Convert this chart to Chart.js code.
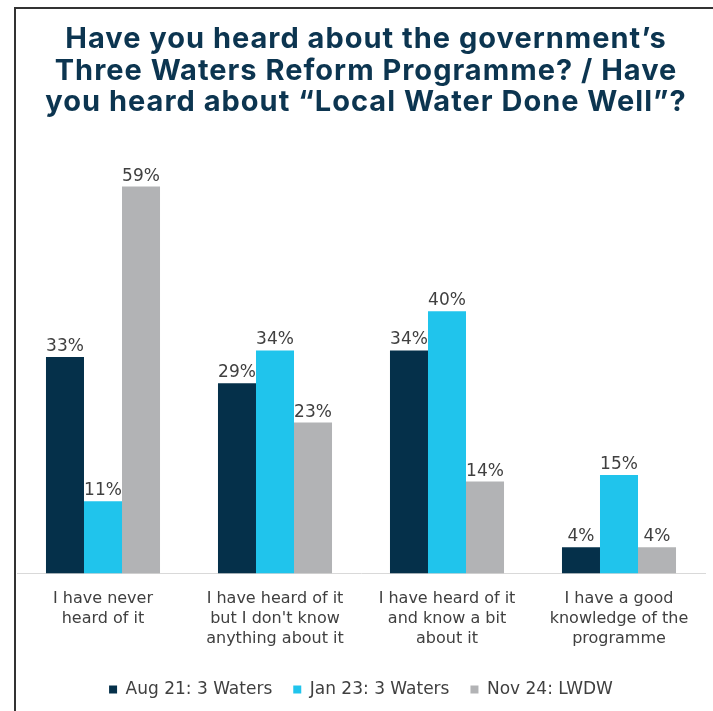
<!DOCTYPE html>
<html lang="en">
<head>
  <meta charset="UTF-8" />
  <title>Three Waters awareness</title>
  <script src="https://cdn.jsdelivr.net/npm/chart.js"></script>
  <style>
    body {
      margin: 0;
      padding: 0;
      background: #ffffff;
      width: 713px;
      height: 711px;
      overflow: hidden;
    }
    .wrap {
      position: relative;
      width: 713px;
      height: 711px;
    }
    .frame {
      position: absolute;
      left: 14px;
      top: 7px;
      right: -4px;
      bottom: -4px;
      border-top: 2px solid #333;
      border-left: 2px solid #333;
      pointer-events: none;
    }
    canvas {
      position: absolute;
      left: 0;
      top: 0;
    }
  </style>
</head>
<body>
  <div class="wrap">
    <canvas id="chart" width="713" height="711"></canvas>
    <div class="frame"></div>
  </div>

  <script>
    const titleLines = [
      "Have you heard about the government\u2019s",
      "Three Waters Reform Programme? / Have",
      "you heard about \u201cLocal Water Done Well\u201d?"
    ];
    const categories = [
      ["I have never", "heard of it"],
      ["I have heard of it", "but I don't know", "anything about it"],
      ["I have heard of it", "and know a bit", "about it"],
      ["I have a good", "knowledge of the", "programme"]
    ];
    const seriesNames = ["Aug 21: 3 Waters", "Jan 23: 3 Waters", "Nov 24: LWDW"];
    const aug21 = [33, 29, 34, 4];
    const jan23 = [11, 34, 40, 15];
    const nov24 = [59, 23, 14, 4];
    const colors = ["#05304a", "#20c4ec", "#b2b3b5"];

    // title drawn by hand so it can get a little letter spacing
    const headTitle = {
      id: "headTitle",
      afterDraw(chart) {
        const ctx = chart.ctx;
        ctx.save();
        ctx.font = "bold 29px Inter, Roboto, sans-serif";
        ctx.letterSpacing = "1px";
        ctx.fillStyle = "#0c3550";
        ctx.textAlign = "center";
        ctx.textBaseline = "alphabetic";
        titleLines.forEach((line, i) => {
          ctx.fillText(line, 366, 48 + i * 31.5);
        });
        ctx.restore();
      }
    };

    const valueLabels = {
      id: "valueLabels",
      afterDatasetsDraw(chart) {
        const ctx = chart.ctx;
        ctx.save();
        ctx.font = "17px 'DejaVu Sans', sans-serif";
        ctx.fillStyle = "#404040";
        ctx.textAlign = "center";
        ctx.textBaseline = "alphabetic";
        chart.data.datasets.forEach((ds, i) => {
          chart.getDatasetMeta(i).data.forEach((bar, j) => {
            ctx.fillText(ds.data[j] + "%", bar.x, bar.y - 6);
          });
        });
        ctx.restore();
      }
    };

    new Chart(document.getElementById("chart"), {
      type: "bar",
      data: {
        labels: categories,
        datasets: [aug21, jan23, nov24].map((d, i) => ({
          label: seriesNames[i],
          data: d,
          backgroundColor: colors[i],
          categoryPercentage: 0.663,
          barPercentage: 1.0
        }))
      },
      options: {
        responsive: false,
        animation: false,
        devicePixelRatio: 1,
        layout: { padding: { top: 180, left: 17, right: 8, bottom: 3 } },
        plugins: {
          title: { display: false },
          legend: {
            position: "bottom",
            labels: {
              color: "#404040",
              font: { family: "'DejaVu Sans', sans-serif", size: 17 },
              boxWidth: 8,
              boxHeight: 8,
              padding: 21
            }
          },
          tooltip: { enabled: false }
        },
        scales: {
          x: {
            grid: { display: false, drawTicks: false },
            border: { color: "#d9d9d9", width: 1 },
            ticks: {
              color: "#404040",
              font: { family: "'DejaVu Sans', sans-serif", size: 16, lineHeight: 1.25 },
              padding: 15,
              maxRotation: 0,
              autoSkip: false
            },
            afterFit(scale) {
              scale.height = 86.6;
            }
          },
          y: {
            display: false,
            min: 0,
            max: 60
          }
        }
      },
      plugins: [valueLabels, headTitle]
    });
  </script>
</body>
</html>
